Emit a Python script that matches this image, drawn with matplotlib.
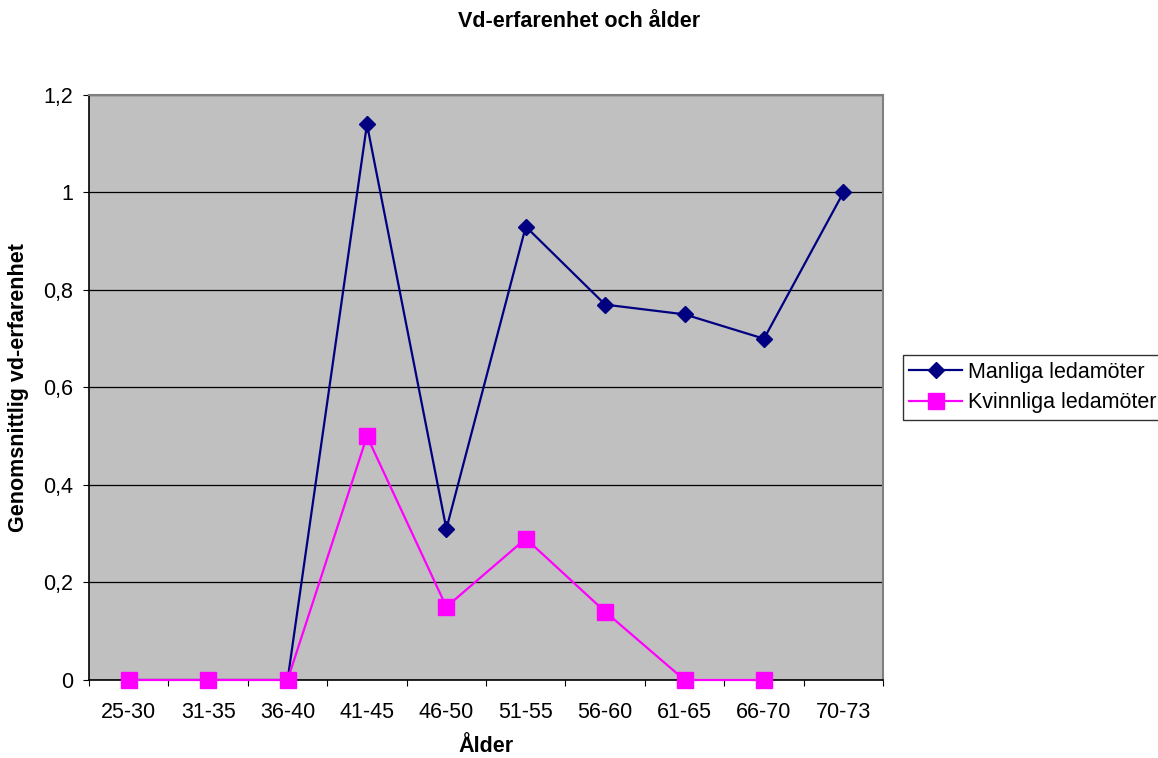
import numpy as np
import matplotlib.pyplot as plt

plt.rcParams["font.family"] = ["Liberation Sans", "DejaVu Sans"]

age_groups = ["25-30", "31-35", "36-40", "41-45", "46-50", "51-55", "56-60", "61-65", "66-70", "70-73"]
men = [0, 0, 0, 1.14, 0.31, 0.93, 0.77, 0.75, 0.70, 1.0]
women = [0, 0, 0, 0.5, 0.15, 0.29, 0.14, 0, 0]

FS = 15.5

fig = plt.figure(figsize=(11.58, 7.58), dpi=100)
ax = fig.add_axes([0.0769, 0.1029, 0.6857, 0.7718])
ax.set_facecolor("#C0C0C0")

x = np.arange(len(age_groups))
ax.plot(x, men, color="#000080", lw=1.6, marker="D", ms=8,
        label="Manliga ledamöter", zorder=3)
ax.plot(x[:len(women)], women, color="#FF00FF", lw=1.6, marker="s", ms=11.5,
        label="Kvinnliga ledamöter", zorder=4, clip_on=False)

ax.set_xlim(-0.5, len(age_groups) - 0.5)
ax.set_ylim(0, 1.2)
ax.set_yticks([0, 0.2, 0.4, 0.6, 0.8, 1.0, 1.2])
ax.set_yticklabels(["0", "0,2", "0,4", "0,6", "0,8", "1", "1,2"], fontsize=FS)
ax.yaxis.grid(True, color="black", lw=0.9)
ax.set_axisbelow(True)

# category labels centred, ticks on the boundaries
ax.set_xticks(np.arange(-0.5, len(age_groups)))
ax.set_xticklabels([])
ax.set_xticks(x, minor=True)
ax.set_xticklabels(age_groups, minor=True, fontsize=FS)
ax.tick_params(axis="x", which="minor", length=0, pad=16)
ax.tick_params(axis="x", which="major", length=4.5, color="black")
ax.tick_params(axis="y", length=4.5, pad=7)

for side in ["top", "right"]:
    ax.spines[side].set_color("#808080")
    ax.spines[side].set_linewidth(1.5)
for side in ["left", "bottom"]:
    ax.spines[side].set_color("black")
    ax.spines[side].set_linewidth(1.2)

ax.set_xlabel("Ålder", fontsize=FS, fontweight="bold", labelpad=9)
ax.set_ylabel("Genomsnittlig vd-erfarenhet", fontsize=FS, fontweight="bold", labelpad=10)
fig.suptitle("Vd-erfarenhet och ålder", fontsize=FS, fontweight="bold",
             x=0.5, y=0.971, va="center")

leg = ax.legend(loc="center left", bbox_to_anchor=(1.025, 0.5), fontsize=FS,
                frameon=True, fancybox=False, edgecolor="black",
                handlelength=2.45, borderpad=0.3, labelspacing=0.45,
                handletextpad=0.28, borderaxespad=0)
leg.get_frame().set_linewidth(1.0)

fig.savefig("out.png", dpi=100)
